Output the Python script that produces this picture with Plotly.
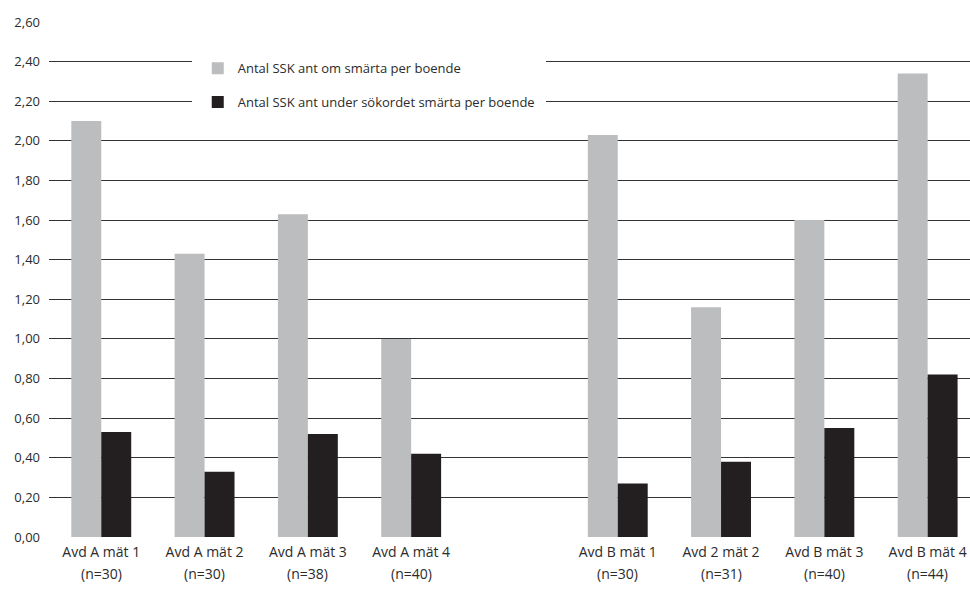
import plotly.graph_objects as go

# Measurement groups; the blank entry separates ward A from ward B
categories = ["Avd A mät 1", "Avd A mät 2", "Avd A mät 3", "Avd A mät 4", " ",
              "Avd B mät 1", "Avd 2 mät 2", "Avd B mät 3", "Avd B mät 4"]
sample_sizes = ["(n=30)", "(n=30)", "(n=38)", "(n=40)", "",
                "(n=30)", "(n=31)", "(n=40)", "(n=44)"]

series_names = ["Antal SSK ant om smärta per boende",
                "Antal SSK ant under sökordet smärta per boende"]
om_smarta = [2.10, 1.43, 1.63, 1.00, None, 2.03, 1.16, 1.60, 2.34]
sokord_smarta = [0.53, 0.33, 0.52, 0.42, None, 0.27, 0.38, 0.55, 0.82]

y_ticks = [round(0.2 * i, 2) for i in range(14)]
y_tick_text = [f"{v:.2f}".replace(".", ",") for v in y_ticks]

FONT = "Open Sans"
TEXT = "#2b2b2b"

fig = go.Figure()
fig.add_trace(go.Bar(x=categories, y=om_smarta, name=series_names[0],
                     marker=dict(color="#bcbdbf", line=dict(width=0)),
                     legendgroup="a"))
fig.add_trace(go.Bar(x=categories, y=sokord_smarta, name=series_names[1],
                     marker=dict(color="#231f20", line=dict(width=0)),
                     legendgroup="b"))

# second line of each category label: sample size
for cat, n in zip(categories, sample_sizes):
    if n:
        fig.add_annotation(x=cat, xref="x", y=0, yref="paper", yanchor="top",
                           yshift=-25, text=n, showarrow=False,
                           font=dict(family=FONT, size=14, color=TEXT))

fig.update_layout(
    width=970, height=590,
    margin=dict(l=49, r=0, t=22, b=53),
    paper_bgcolor="white", plot_bgcolor="white",
    barmode="group", bargap=0.42, bargroupgap=0,
    font=dict(family=FONT, size=13, color=TEXT),
    legend=dict(x=0.155, y=0.951, xanchor="left", yanchor="top",
                bgcolor="white", bordercolor="white", borderwidth=6,
                traceorder="grouped", tracegroupgap=14,
                font=dict(family=FONT, size=13, color=TEXT)),
    xaxis=dict(type="category", categoryorder="array", categoryarray=categories,
               range=[-0.506, 8.41], showgrid=False, showline=False,
               zeroline=False, ticks="", tickfont=dict(size=14),
               ticklabelstandoff=5, fixedrange=True),
    yaxis=dict(range=[0, 2.6], tickvals=y_ticks, ticktext=y_tick_text,
               showgrid=True, gridcolor="#333333", gridwidth=1.2,
               showline=False, zeroline=False, ticks="",
               ticklabelstandoff=8, tickfont=dict(size=13)),
)

fig.write_html("out.html")
